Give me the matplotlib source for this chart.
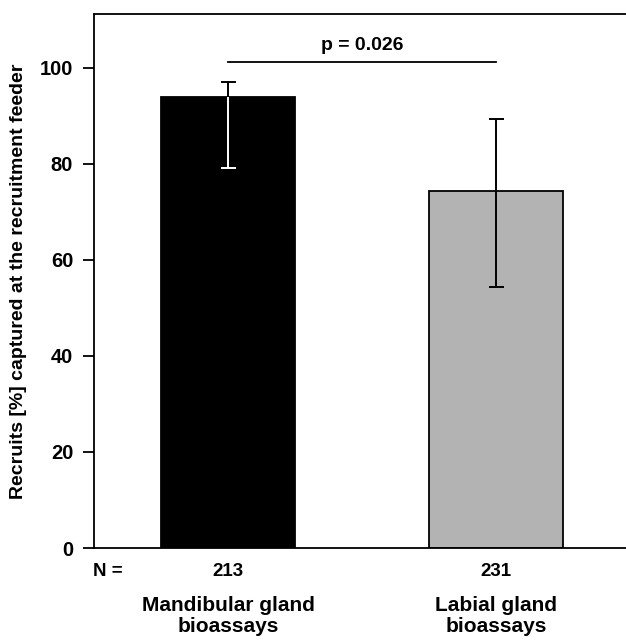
import matplotlib
matplotlib.use("Agg")
import matplotlib.pyplot as plt

categories = ["Mandibular gland\nbioassays", "Labial gland\nbioassays"]
means = [94.0, 74.4]
err_low = [14.8, 20.0]
err_high = [3.1, 15.0]
sample_sizes = [213, 231]
p_label = "p = 0.026"

plt.rcParams["font.family"] = ["Liberation Sans", "DejaVu Sans"]
plt.rcParams["font.weight"] = "bold"

W, H = 626, 640
fig = plt.figure(figsize=(W / 100, H / 100), dpi=100)
ax = fig.add_axes([94 / W, (H - 548) / H, 1 - 94 / W, 534 / H])

x = list(range(len(categories)))
colors = ["black", "#b3b3b3"]
ax.bar(x, means, width=0.5, color=colors, edgecolor="black", linewidth=1.3, zorder=2)

# error bars: the part inside the black bar is drawn white
low_colors = ["white", "black"]
cap = 0.028
for i in x:
    top = means[i] + err_high[i]
    bot = means[i] - err_low[i]
    ax.vlines(i, means[i], top, color="black", lw=1.4, zorder=3)
    ax.hlines(top, i - cap, i + cap, color="black", lw=1.4, zorder=3)
    ax.vlines(i, bot, means[i], color=low_colors[i], lw=1.4, zorder=3)
    ax.hlines(bot, i - cap, i + cap, color=low_colors[i], lw=1.4, zorder=3)

# significance line
y_sig = 101.3
ax.plot([x[0], x[1]], [y_sig, y_sig], color="black", lw=1.3)
ax.text((x[0] + x[1]) / 2, y_sig + 1.6, p_label, ha="center", va="bottom",
        fontsize=14, fontweight="bold")

ax.set_xlim(-0.5, 1.485)
ax.set_ylim(0, 111.2)
ax.set_yticks([0, 20, 40, 60, 80, 100])
ax.set_xticks([])
ax.tick_params(axis="y", direction="out", length=8, width=1.3, labelsize=14.5, pad=7)
for lab in ax.get_yticklabels():
    lab.set_fontweight("bold")
for side in ["left", "bottom", "top"]:
    ax.spines[side].set_linewidth(1.3)
ax.spines["right"].set_visible(False)

ax.set_ylabel("Recruits [%] captured at the recruitment feeder", fontsize=14,
              fontweight="bold")
ax.yaxis.set_label_coords((27 - 94) / (W - 94), 0.5)

# N row and category labels below the axis
trans = ax.get_xaxis_transform()
fig.text(108 / W, 1 - 572 / H, "N =", ha="center", va="center", fontsize=13.5, fontweight="bold")
for i in x:
    ax.text(i, -24 / 534, str(sample_sizes[i]), transform=trans, ha="center", va="center",
            fontsize=13.5, fontweight="bold")
    ax.text(i, -68 / 534, categories[i], transform=trans, ha="center", va="center",
            fontsize=15, fontweight="bold", linespacing=1.15)

fig.savefig("out.png", dpi=100)
